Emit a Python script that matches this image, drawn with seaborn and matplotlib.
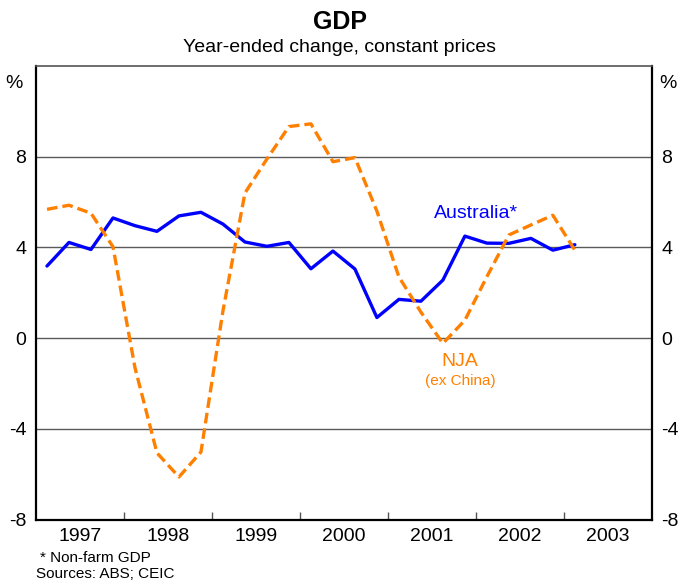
import numpy as np
import pandas as pd
import matplotlib
matplotlib.use('Agg')
import matplotlib.pyplot as plt
import seaborn as sns

# ── Data (year-ended % change, quarterly 1997 Q1 – 2003 Q1) ─────
quarters = [f'{y}Q{q}' for y in range(1997, 2003) for q in range(1, 5)] + ['2003Q1']

australia = [3.18, 4.22, 3.91, 5.30,
             4.96, 4.71, 5.39, 5.55,
             5.03, 4.24, 4.05, 4.22,
             3.06, 3.84, 3.05, 0.91,
             1.71, 1.63, 2.56, 4.50,
             4.19, 4.18, 4.40, 3.88,
             4.12]

nja = [5.68, 5.86, 5.51, 4.03,
       -1.30, -5.06, -6.12, -5.02,
       1.20, 6.40, 7.90, 9.33,
       9.45, 7.78, 7.96, 5.60,
       2.70, 1.15, -0.23, 0.79,
       2.71, 4.55, 4.99, 5.42,
       3.88]

years = list(range(1997, 2004))
y_ticks = [-8, -4, 0, 4, 8]

# quarter labels -> decimal year at mid-quarter
xpos = [int(s[:4]) + (int(s[-1]) - 0.5) / 4 for s in quarters]
df = pd.DataFrame({'x': xpos, 'Australia': australia, 'NJA': nja})

# ── Style ───────────────────────────────────────────────────────
sns.set_theme(style="white")
plt.rcParams['font.family'] = ['Liberation Sans', 'DejaVu Sans']
plt.rcParams.update({'text.color': 'black',
                     'xtick.color': 'black',
                     'ytick.color': 'black'})

fig = plt.figure(figsize=(6.79, 5.82), dpi=100)
ax = fig.add_axes([0.053, 0.1072, 0.907, 0.7794])

sns.lineplot(data=df, x='x', y='Australia', ax=ax, color='#0000ff', lw=2.4)
sns.lineplot(data=df, x='x', y='NJA', ax=ax, color='#ff8000', lw=2.4)
ax.lines[-1].set_dashes((3.2, 1.5))

ax.set_xlabel('')
ax.set_ylabel('')

# horizontal grid lines
for v in [-4, 0, 4, 8]:
    ax.axhline(v, color='#5a5a5a', lw=1.0, zorder=0)

# x ticks: labels mid-year (major, no marks), marks at year boundaries (minor)
ax.set_xticks([y + 0.5 for y in years],
              labels=[str(y) for y in years])
ax.set_xticks(years[1:], minor=True)
ax.tick_params(axis='x', which='major', length=0, pad=6,
               labelsize=14, labelcolor='black')
ax.tick_params(axis='x', which='minor', direction='in', length=6,
               width=1, color='#555555', bottom=True)

# y ticks on both sides, no marks
ax.set_yticks(y_ticks, labels=[str(v) for v in y_ticks])
ax.tick_params(axis='y', length=0, pad=7, labelsize=14,
               labelcolor='black', left=True, right=True,
               labelleft=True, labelright=True)

ax.set_xlim(1997, 2004)
ax.set_ylim(-8, 12)

for side in ['left', 'right', 'bottom']:
    ax.spines[side].set_color('black')
    ax.spines[side].set_linewidth(1.6)
ax.spines['top'].set_color('#555555')
ax.spines['top'].set_linewidth(1.2)

# % unit labels
ax.text(-0.022, 0.962, '%', transform=ax.transAxes, ha='right',
        va='center', fontsize=14)
ax.text(1.012, 0.962, '%', transform=ax.transAxes, ha='left',
        va='center', fontsize=14)

# series labels
ax.text(2002.0, 5.5, 'Australia*', color='#0000ff', fontsize=14,
        ha='center', va='center')
ax.text(2001.82, -1.05, 'NJA', color='#ff8000', fontsize=14,
        ha='center', va='center')
ax.text(2001.82, -1.9, '(ex China)', color='#ff8000', fontsize=11,
        ha='center', va='center')

# titles
fig.text(0.5, 0.962, 'GDP', ha='center', va='center', fontsize=18,
         fontweight='bold')
fig.text(0.5, 0.919, 'Year-ended change, constant prices',
         ha='center', va='center', fontsize=14)

# footnotes
fig.text(0.059, 0.041, '* Non-farm GDP', ha='left', va='center',
         fontsize=11)
fig.text(0.053, 0.013, 'Sources: ABS; CEIC', ha='left', va='center',
         fontsize=11)

plt.savefig('out.png', dpi=100)
